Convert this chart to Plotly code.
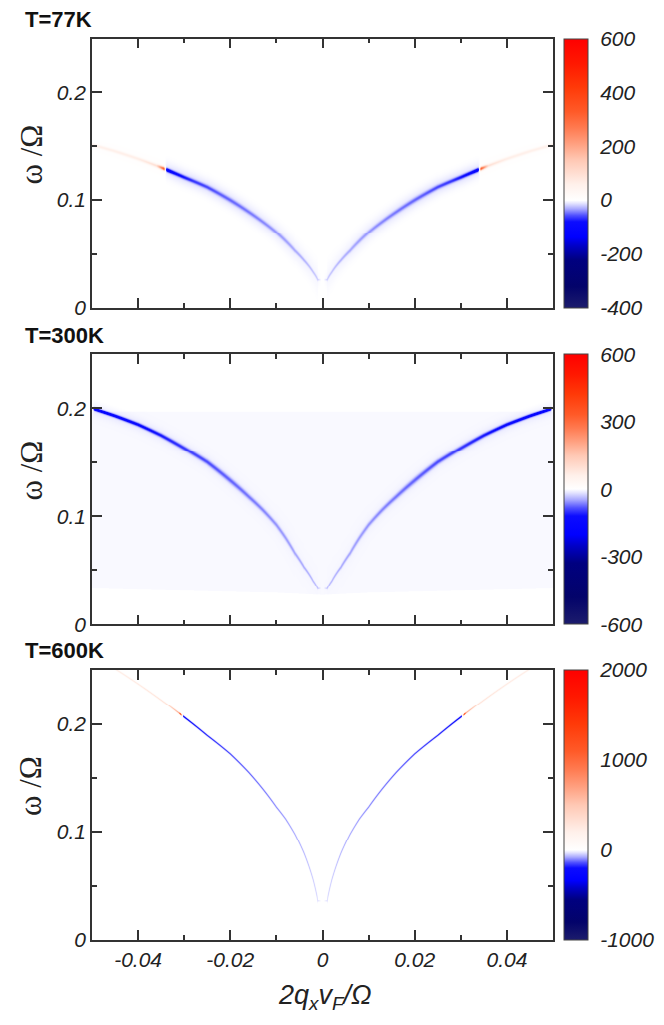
import numpy as np
import plotly.graph_objects as go

OFF = 8                      # browser body margin
W, H = 664 - OFF, 1025 - OFF
X0, X1 = 92 - OFF, 553 - OFF            # plot area, pixels
PANELS_PX = [(39 - OFF, 311 - OFF), (358 - OFF, 631 - OFF), (677 - OFF, 950 - OFF)]
CB_X, CB_W = 564 - OFF, 24

# ---------------- data ----------------
titles = ["T=77K", "T=300K", "T=600K"]

# ridge position (positive q side; mirrored for q<0)
q_pts = [0.001, 0.002, 0.004, 0.006, 0.008, 0.010, 0.013, 0.016, 0.020, 0.025, 0.030, 0.035, 0.040, 0.045, 0.050]
w_77 = [0.026, 0.033, 0.044, 0.053, 0.062, 0.070, 0.080, 0.089, 0.100, 0.112, 0.121, 0.130, 0.138, 0.145, 0.151]
w_300 = [0.033, 0.040, 0.053, 0.066, 0.080, 0.092, 0.106, 0.118, 0.133, 0.150, 0.163, 0.175, 0.185, 0.193, 0.200]
w_600 = [0.036, 0.055, 0.080, 0.098, 0.112, 0.123, 0.140, 0.155, 0.172, 0.189, 0.206, 0.222, 0.237, 0.251, 0.264]

# ridge peak value along the curve, and broad halo value
aq_77 = [0.0003, 0.001, 0.004, 0.010, 0.016, 0.022, 0.028, 0.032, 0.0338, 0.0344, 0.036, 0.040, 0.050]
av_77 = [0, -18, -24, -30, -36, -42, -55, -80, -110, 320, 90, 60, 50]
hv_77 = [0, -3, -5, -8, -10, -11, -12, -12, -10, 6, 6, 5, 4]

aq_300 = [0.0003, 0.001, 0.004, 0.010, 0.016, 0.022, 0.028, 0.034, 0.040, 0.046, 0.0495, 0.050]
av_300 = [0, -35, -42, -50, -60, -70, -82, -100, -125, -155, -180, 150]
hv_300 = [0, -1, -2, -4, -6, -7, -8, -9, -10, -10, -10, 0]

aq_600 = [0.0003, 0.001, 0.004, 0.010, 0.016, 0.022, 0.027, 0.0302, 0.0308, 0.0312, 0.034, 0.040, 0.050]
av_600 = [0, -45, -75, -110, -140, -170, -200, -230, 1400, 700, 320, 260, 220]
hv_600 = [0] * 13

# ridge width (sigma, in omega units)
sq_77 = [0.001, 0.008, 0.020, 0.034, 0.050]
sv_77 = [0.0006, 0.0011, 0.0014, 0.0011, 0.0010]
sq_300 = [0.001, 0.008, 0.020, 0.035, 0.050]
sv_300 = [0.0005, 0.0010, 0.0015, 0.0012, 0.0009]
sq_600 = [0.001, 0.010, 0.030, 0.050]
sv_600 = [0.00035, 0.00045, 0.0005, 0.0005]
halo_sig = [0.0045, 0.004, 0.001]

# T=300K flat background band
bg_q = [0.0, 0.01, 0.02, 0.03, 0.04, 0.05]
bg_low = [0.027, 0.029, 0.030, 0.031, 0.032, 0.033]
bg_top = 0.197
bg_in, bg_out = -4.0, 0.6

# colour ranges and ticks
zranges = [(-400, 600), (-600, 600), (-1000, 2000)]
cb_ticks = [[-400, -200, 0, 200, 400, 600], [-600, -300, 0, 300, 600], [-1000, 0, 1000, 2000]]

x_ticks = [-0.04, -0.02, 0, 0.02, 0.04]
x_ticktext = ["-0.04", "-0.02", "0", "0.02", "0.04"]
y_ticks = [0, 0.1, 0.2]
y_ticktext = ["0", "0.1", "0.2"]

neg_stops = [(0.0, "#1c1c6c"), (0.2, "#03036a"), (0.45, "#000080"), (0.58, "#0000c8"),
             (0.66, "#0000ff"), (0.8, "#0c0cff"), (0.86, "#5050ff"), (0.92, "#a8a8ff"),
             (0.97, "#e2e2ff"), (1.0, "#ffffff")]
pos_stops = [(0.0, "#ffffff"), (0.1, "#fff0ea"), (0.25, "#ffc8b4"), (0.35, "#ffa080"),
             (0.45, "#ff7a50"), (0.55, "#ff5a28"), (0.7, "#ff3a08"), (0.85, "#ff1800"),
             (1.0, "#ff0000")]


def colorscale(vmin, vmax):
    w = -vmin / (vmax - vmin)
    cs = [[s * w, c] for s, c in neg_stops]
    cs += [[w + s * (1 - w), c] for s, c in pos_stops[1:]]
    return cs


# ---------------- rendering grid (one cell per pixel, supersampled) ----------------
NQ = X1 - X0
NW = PANELS_PX[0][1] - PANELS_PX[0][0]
qg = -0.05 + (np.arange(NQ) + 0.5) * 0.1 / NQ
wg = (np.arange(NW) + 0.5) * 0.25 / NW
SS = 3
qs = -0.05 + (np.arange(NQ * SS) + 0.5) * 0.1 / (NQ * SS)
ws = (np.arange(NW * SS) + 0.5) * 0.25 / (NW * SS)
PXW = NW / 0.25
PXQ = NQ / 0.1


def field(wp, aq, av, hv, sq, sv, hs, bg=False):
    aq_abs = np.abs(qs)
    center = np.interp(np.sqrt(aq_abs), np.sqrt(q_pts), wp)
    slope = np.gradient(center, qs) * PXW / PXQ
    fac = np.sqrt(1 + slope ** 2)
    amp = np.interp(aq_abs, aq, av)
    hamp = np.interp(aq_abs, aq, hv)
    sig = np.interp(aq_abs, sq, sv) * fac
    hsig = hs * fac
    d = ws[:, None] - center[None, :]
    z = amp[None, :] * np.exp(-d ** 2 / (2 * sig[None, :] ** 2))
    z += hamp[None, :] * np.exp(-d ** 2 / (2 * hsig[None, :] ** 2))
    if bg:
        low = np.interp(aq_abs, bg_q, bg_low)
        inside = (ws[:, None] > low[None, :]) & (ws[:, None] < bg_top)
        z += np.where(inside, bg_in, bg_out)
    z = z.reshape(NW, SS, NQ, SS).mean(axis=(1, 3))
    return np.round(z, 1)


fields = [
    field(w_77, aq_77, av_77, hv_77, sq_77, sv_77, halo_sig[0]),
    field(w_300, aq_300, av_300, hv_300, sq_300, sv_300, halo_sig[1], bg=True),
    field(w_600, aq_600, av_600, hv_600, sq_600, sv_600, halo_sig[2]),
]

fig = go.Figure()
axis_line = dict(showline=True, linewidth=1.5, linecolor="#333", mirror="ticks",
                 ticks="inside", ticklen=10, tickwidth=1.5, tickcolor="#333",
                 showgrid=False, zeroline=False)
tick_font = dict(family="Liberation Sans", size=21, style="italic", color="#222")

for i in range(3):
    top, bot = PANELS_PX[i]
    y0, y1 = 1 - bot / H, 1 - top / H
    xn = "x" if i == 0 else f"x{i+1}"
    yn = "y" if i == 0 else f"y{i+1}"
    vmin, vmax = zranges[i]
    fig.add_trace(go.Heatmap(
        x=qg, y=wg, z=fields[i], xaxis=xn, yaxis=yn,
        colorscale=colorscale(vmin, vmax), zmin=vmin, zmax=vmax,
        hoverinfo="skip",
        colorbar=dict(x=CB_X / W, xanchor="left", xpad=0, y=(y0 + y1) / 2, yanchor="middle",
                      len=(bot - top) / H, lenmode="fraction", ypad=0,
                      thickness=CB_W, thicknessmode="pixels",
                      outlinewidth=1, outlinecolor="#444",
                      tickvals=cb_ticks[i], ticktext=[str(v) for v in cb_ticks[i]],
                      ticks="outside", ticklen=8, tickcolor="rgba(0,0,0,0)",
                      tickfont=tick_font),
    ))
    xkey = "xaxis" if i == 0 else f"xaxis{i+1}"
    ykey = "yaxis" if i == 0 else f"yaxis{i+1}"
    fig.layout[xkey] = dict(domain=[X0 / W, X1 / W], anchor=yn, range=[-0.05, 0.05],
                            tickvals=x_ticks, ticktext=x_ticktext,
                            showticklabels=(i == 2), tickfont=tick_font,
                            minor=dict(dtick=0.01, tick0=0, ticks="inside", ticklen=5,
                                       tickwidth=1.5, tickcolor="#333"),
                            **axis_line)
    fig.layout[ykey] = dict(domain=[y0, y1], anchor=xn, range=[0, 0.25],
                            tickvals=y_ticks, ticktext=y_ticktext, tickfont=tick_font,
                            minor=dict(dtick=0.05, tick0=0, ticks="inside", ticklen=5,
                                       tickwidth=1.5, tickcolor="#333"),
                            **axis_line)
    fig.add_annotation(text=titles[i], xref="paper", yref="paper",
                       x=(23 - OFF) / W, y=1 - (top - 19) / H, xanchor="left", yanchor="middle",
                       showarrow=False,
                       font=dict(family="Liberation Sans", size=22, weight="bold", color="#111"))
    fig.add_annotation(text="ω /Ω", xref="paper", yref="paper", textangle=-90,
                       x=(31 - OFF) / W, y=1 - ((top + bot) / 2 - 19) / H,
                       xanchor="center", yanchor="middle", showarrow=False,
                       font=dict(family="Liberation Serif", size=31, color="#222"))

fig.add_annotation(text="2q<sub>x</sub>v<sub>F</sub>/Ω", xref="paper", yref="paper",
                   x=((X0 + X1) / 2 + 2) / W, y=1 - (1008 - OFF) / H,
                   xanchor="center", yanchor="middle", showarrow=False,
                   font=dict(family="Liberation Sans", size=27, style="italic", color="#222"))

fig.update_layout(width=W, height=H, autosize=False, margin=dict(l=0, r=0, t=0, b=0),
                  paper_bgcolor="white", plot_bgcolor="white", showlegend=False)
fig.write_html("out.html")
